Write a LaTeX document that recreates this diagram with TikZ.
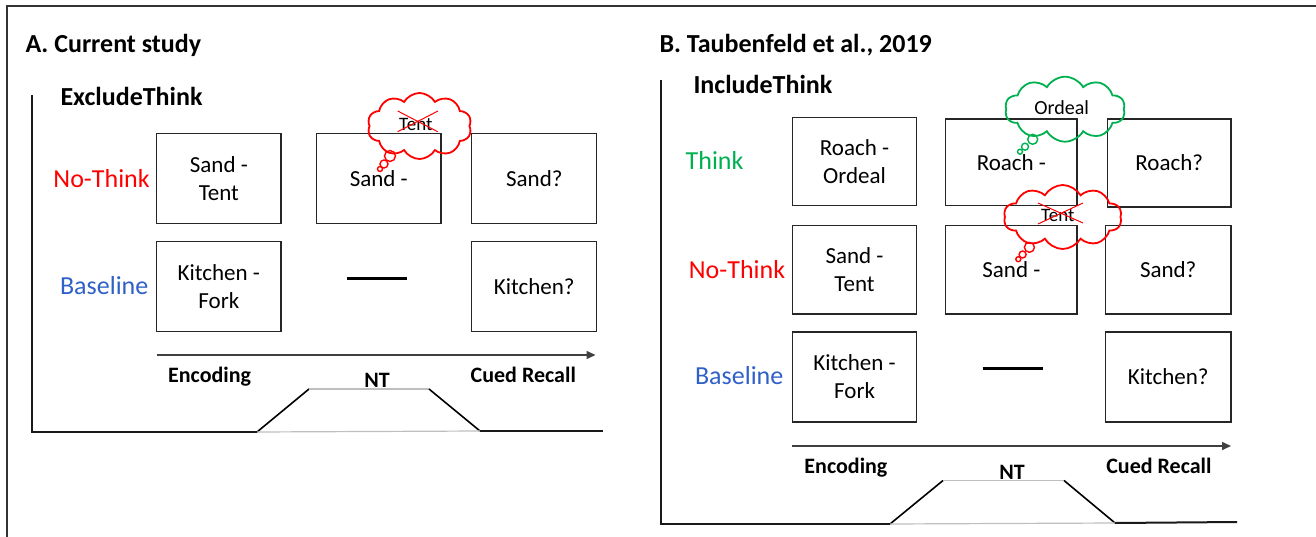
\documentclass[tikz,border=0pt]{standalone}
\usepackage{fontspec}
\setmainfont{Carlito}
\usetikzlibrary{shapes.symbols,arrows.meta}
\definecolor{nred}{RGB}{255,0,0}
\definecolor{ngreen}{RGB}{0,176,80}
\definecolor{nblue}{RGB}{47,96,200}
\begin{document}
\begin{tikzpicture}[x=1pt,y=-1pt,
  box/.style={draw=black!85, line width=1.3, inner sep=0, align=center, font=\fontsize{23}{28}\selectfont},
  lab/.style={anchor=base, font=\fontsize{26}{30}\selectfont},
  head/.style={anchor=base west, font=\bfseries\fontsize{26}{30}\selectfont},
  subhead/.style={anchor=base west, font=\bfseries\fontsize{26}{30}\selectfont},
  phase/.style={anchor=base, font=\bfseries\fontsize{22}{26}\selectfont},
  thought/.style={cloud, draw=#1, line width=1.8, cloud puffs=10, cloud puff arc=120, inner sep=0},
  bub/.style={circle, draw=#1, line width=1.4, inner sep=0},
  ctext/.style={font=\fontsize{19}{22}\selectfont, inner sep=0},
  axisline/.style={line width=2, black!90},
  slope/.style={line width=1.6, black},
  flat/.style={line width=1.2, black!25},
  timeline/.style={line width=1.5, black!75, -{Triangle[length=9,width=8]}},
  crossline/.style={nred, line width=1}
]
\useasboundingbox (0,0) rectangle (1316,537);
% frame
\coordinate (fr0) at (7,537);
\coordinate (fr1) at (7,6);
\coordinate (fr2) at (1316,6);
\draw[line width=1.8, black!80] (fr0) -- (fr1) -- (fr2);

% ================= Panel A =================
\node[head] (ha) at (22,52.5) {A. Current study};
\node[subhead] (sa) at (57,105.8) {ExcludeThink};

\node[lab, text=nred] (nta) at (101.6,188) {No-Think};
\node[lab, text=nblue] (bla) at (104.2,294.5) {Baseline};

\node[box, minimum width=124.5, minimum height=89.7] (a11) at (218.85,178.45) {Sand -\\Tent};
\node[box, minimum width=124.5, minimum height=89.7] (a12) at (378.75,178.45) {Sand -};
\node[box, minimum width=125, minimum height=89.7] (a13) at (534.3,178.45) {Sand?};
\node[box, minimum width=124.5, minimum height=89.7] (a21) at (218.85,286.65) {Kitchen -\\Fork};
\node[box, minimum width=125, minimum height=89.7] (a23) at (534.3,286.65) {Kitchen?};
\coordinate (ad0) at (347,278);
\coordinate (ad1) at (406.6,278);
\draw[line width=3, black] (ad0) -- (ad1);

% thought cloud A
\node[thought=nred, minimum width=104, minimum height=66] (ca) at (419.5,126) {};
\node[ctext] (cat) at (415.8,124) {Tent};
\coordinate (cax0) at (397.7,111); \coordinate (cax1) at (437.7,131.7);
\coordinate (cax2) at (438,111);   \coordinate (cax3) at (397.7,131.7);
\draw[crossline] (cax0) -- (cax1);
\draw[crossline] (cax2) -- (cax3);
\node[bub=nred, minimum size=11] (cab1) at (390,156) {};
\node[bub=nred, minimum size=8] (cab2) at (384,164) {};
\node[bub=nred, minimum size=5] (cab3) at (380,169) {};

% timeline A
\coordinate (at0) at (156.6,355);
\coordinate (at1) at (595.5,355);
\draw[timeline] (at0) -- (at1);
\node[phase] (enca) at (209.6,382.6) {Encoding};
\node[phase] (nta2) at (377,387) {NT};
\node[phase] (cra) at (523.3,382.6) {Cued Recall};

% axes A
\coordinate (p0) at (32,95);
\coordinate (p1) at (32,432);
\coordinate (p2) at (257,432);
\coordinate (p3) at (309,389);
\coordinate (p4) at (429,389);
\coordinate (p5) at (480,431);
\coordinate (p6) at (603,431);
\draw[axisline] (p0) -- (p1) -- (p2);
\draw[slope] (p2) -- (p3);
\draw[flat] (p3) -- (p4);
\draw[slope] (p4) -- (p5);
\draw[flat] (p2) -- (p5);
\draw[axisline] (p5) -- (p6);

% ================= Panel B =================
\node[head] (hb) at (656,52.5) {B. Taubenfeld et al., 2019};
\node[subhead] (sb) at (690,94) {IncludeThink};

\node[lab, text=ngreen] (thb) at (714.6,169.2) {Think};
\node[lab, text=nred] (ntb) at (737,278.7) {No-Think};
\node[lab, text=nblue] (blb) at (739.2,384.9) {Baseline};

\node[box, minimum width=124.5, minimum height=88] (b11) at (854.55,161.5) {Roach -\\Ordeal};
\node[box, minimum width=131.3, minimum height=86.5] (b12) at (1011.35,162.25) {Roach -};
\node[box, minimum width=123.5, minimum height=88] (b13) at (1169.25,163) {Roach?};
\node[box, minimum width=124.5, minimum height=88.7] (b21) at (854.55,269.65) {Sand -\\Tent};
\node[box, minimum width=131.3, minimum height=88.7] (b22) at (1011.35,269.65) {Sand -};
\node[box, minimum width=125.6, minimum height=88.7] (b23) at (1168.2,269.65) {Sand?};
\node[box, minimum width=124.5, minimum height=90] (b31) at (854.55,377) {Kitchen -\\Fork};
\node[box, minimum width=125.6, minimum height=90] (b33) at (1168.2,377) {Kitchen?};
\coordinate (bd0) at (982.6,368.8);
\coordinate (bd1) at (1042.5,368.8);
\draw[line width=3, black] (bd0) -- (bd1);

% green thought cloud
\node[thought=ngreen, minimum width=120, minimum height=65] (cg) at (1065,109.2) {};
\node[ctext, font=\fontsize{20}{24}\selectfont] (cgt) at (1061.7,107.7) {Ordeal};
\node[bub=ngreen, minimum size=10] (cgb1) at (1032.7,139.3) {};
\node[bub=ngreen, minimum size=7] (cgb2) at (1025,146.7) {};
\node[bub=ngreen, minimum size=5] (cgb3) at (1020,151.7) {};

% red thought cloud B
\node[thought=nred, minimum width=118, minimum height=64] (cb) at (1062.7,217) {};
\node[ctext] (cbt) at (1057.8,215.8) {Tent};
\coordinate (cbx0) at (1038,203); \coordinate (cbx1) at (1083,223);
\coordinate (cbx2) at (1083,203); \coordinate (cbx3) at (1038,224);
\draw[crossline] (cbx0) -- (cbx1);
\draw[crossline] (cbx2) -- (cbx3);
\node[bub=nred, minimum size=10] (cbb1) at (1029.4,247.3) {};
\node[bub=nred, minimum size=7] (cbb2) at (1022.6,254.5) {};
\node[bub=nred, minimum size=5] (cbb3) at (1018.3,259.2) {};

% timeline B
\coordinate (bt0) at (792.3,446);
\coordinate (bt1) at (1231,446);
\draw[timeline] (bt0) -- (bt1);
\node[phase] (encb) at (845.9,473.8) {Encoding};
\node[phase] (ntb2) at (1012,479.6) {NT};
\node[phase] (crb) at (1158.9,473.8) {Cued Recall};

% axes B
\coordinate (q0) at (660.6,80.5);
\coordinate (q1) at (660.6,524);
\coordinate (q2) at (890,524);
\coordinate (q3) at (943,480.5);
\coordinate (q4) at (1064,480.5);
\coordinate (q5) at (1115,523);
\coordinate (q6) at (1237,522);
\draw[axisline] (q0) -- (q1) -- (q2);
\draw[slope] (q2) -- (q3);
\draw[flat] (q3) -- (q4);
\draw[slope] (q4) -- (q5);
\draw[flat] (q2) -- (q5);
\draw[axisline] (q5) -- (q6);
\end{tikzpicture}
\end{document}
